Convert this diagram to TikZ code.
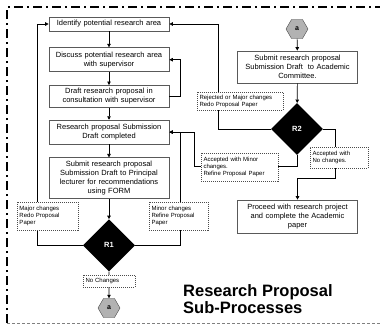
\documentclass[tikz,border=0pt]{standalone}
\usepackage{fontspec}
\setmainfont{Liberation Sans}
\usetikzlibrary{positioning,shapes.geometric,arrows.meta}

\begin{document}
\begin{tikzpicture}[x=1pt,y=1pt,
			procbox/.style={
				draw=black!65,
				fill=white,
				line width=0.7pt,
				text width=110pt,
				inner xsep=5pt,
				inner ysep=1pt,
				align=center,
				font=\fontsize{7.5}{9}\selectfont
			},
			decision/.style={
				diamond,
				aspect=1,
				fill=black,
				minimum width=52pt,
				minimum height=52pt,
				inner sep=0pt,
				text=white,
				font=\fontsize{7.5}{9}\selectfont\bfseries
			},
			connector/.style={
				regular polygon,
				regular polygon sides=6,
				minimum size=22pt,
				inner sep=0pt,
				draw=black!70,
				fill=black!30,
				font=\fontsize{7}{8}\selectfont\bfseries
			},
			note/.style={
				draw=black!70,
				dash pattern=on 1pt off 1pt,
				fill=white,
				align=left,
				inner sep=2.5pt,
				font=\fontsize{6}{7}\selectfont
			},
			flow/.style={-{Triangle[length=3.5pt,width=3.5pt]}, line width=0.7pt}
			]
			\useasboundingbox (0,0) rectangle (380,-325);
			% frame
			\draw[line width=1.8pt, dash pattern=on 9pt off 4pt on 2pt off 4pt] (7,-323) -- (7,-7) -- (380,-7);
			\draw[black!50, line width=0.6pt, dash pattern=on 3pt off 2pt] (7,-323) -- (380,-323);
			% left column
			\node[procbox, minimum height=14pt] (identify) at (109,-24) {Identify potential research area};
			\node[procbox, minimum height=24pt, below=16pt of identify] (discuss) {Discuss potential research area\\with supervisor};
			\node[procbox, minimum height=22pt, below=13pt of discuss] (draft) {Draft research proposal in\\consultation with supervisor};
			\node[procbox, minimum height=24pt, below=12pt of draft] (subdraft) {Research proposal Submission\\Draft completed};
			\node[procbox, minimum height=41pt, below=13pt of subdraft] (principal) {Submit research proposal\\Submission Draft to Principal\\lecturer for recommendations\\using FORM};
			\node[decision, below=20pt of principal] (r1) {R1};
			\node[connector] (a1) at (109,-308) {a};
			% right column
			\node[connector] (a2) at (297,-29) {a};
			\node[procbox, minimum height=32pt] (committee) at (297.5,-67) {Submit research proposal\\Submission Draft\ \ to Academic\\Committee.};
			\node[decision] (r2) at (297,-129) {R2};
			\node[procbox, minimum height=33pt] (proceed) at (297.5,-216.5) {Proceed with research project\\and complete the Academic\\paper};
			% connectors
			\draw[flow] (identify) -- (discuss);
			\draw[flow] (discuss) -- (draft);
			\draw[flow] (draft) -- (subdraft);
			\draw[flow] (subdraft) -- (principal);
			\draw[flow] (principal) -- (r1);
			\draw[flow] (r1) -- (a1);
			\draw[flow] (a2) -- (committee);
			\draw[flow] (committee) -- (r2);
			\draw[flow] (draft.east) -- ++(11,0) |- (discuss.east);
			\draw[flow] (r1.west) -- ++(-45,0) |- (identify.west);
			\draw[flow] (r1.east) -- ++(45,0) |- (subdraft.east);
			\draw[flow] (r2.west) -- ++(-52,0) |- (identify.east);
			\draw[flow] (r2.south) -- ++(0,-11) -| ([xshift=25pt]subdraft.east) -- (subdraft.east);
			\draw[flow] (r2.east) -- ++(12,0) -- ++(0,-49) -| (proceed.north);
			% notes on the lines
			\node[note, text width=56pt, minimum height=28pt] (major) at (47.5,-216) {Major changes\\Redo Proposal\\Paper};
			\node[note, text width=54pt, minimum height=28pt] (minor) at (178.5,-216) {Minor changes\\Refine Proposal\\Paper};
			\node[note, text width=47pt, minimum height=12pt] (nochange) at (109,-281) {No Changes};
			\node[note, text width=81pt, minimum height=18pt] (rejected) at (240,-101) {Rejected or Major changes\\Redo Proposal Paper};
			\node[note, text width=72pt, minimum height=28pt] (accminor) at (239.5,-167) {Accepted with Minor\\changes.\\Refine Proposal Paper};
			\node[note, text width=53pt, minimum height=21pt] (accno) at (339,-157.5) {Accepted with\\No changes.};
			% title
			\node[anchor=north west, inner sep=0pt, align=left, font=\fontsize{16.5}{17}\selectfont\bfseries] (title) at (183,-284) {Research Proposal\\Sub-Processes};
		\end{tikzpicture}
\end{document}
